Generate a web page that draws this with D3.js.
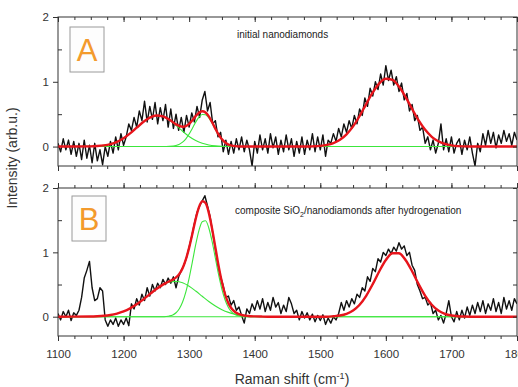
<!DOCTYPE html>
<html><head><meta charset="utf-8">
<script src="https://cdn.jsdelivr.net/npm/d3@7/dist/d3.min.js"></script>
<style>
html,body{margin:0;padding:0;background:#fff;}
text{font-family:"Liberation Sans",Arial,Helvetica,sans-serif;}
</style></head>
<body><svg id="c" width="518" height="387"></svg>
<script>
// ---------- DATA ----------
// Raman shift sampling grid (cm-1), 4 cm-1 step
const shift = d3.range(1100, 1801, 4);
// Panel A: initial nanodiamonds (measured spectrum)
const intensityA = [
 0.05,-0.08,0.12,-0.05,0.10,-0.12,0.08,-0.15,0.05,-0.20,0.10,-0.18,0.02,-0.25,0.05,-0.22,-0.05,-0.28,0.00,-0.15,0.08,-0.10,0.15,-0.05,0.20,
 0.02,0.15,0.35,0.25,0.45,0.30,0.55,0.40,0.70,0.38,0.62,0.42,0.68,0.35,0.60,0.40,0.65,0.30,0.58,0.28,0.50,0.25,0.45,0.22,0.48,
 0.30,0.52,0.38,0.62,0.45,0.72,0.85,0.55,0.68,0.35,0.40,0.15,0.22,-0.08,0.10,-0.12,0.08,-0.10,0.12,-0.05,0.15,-0.08,0.10,-0.05,-0.30,
 0.08,-0.10,0.18,-0.05,0.12,-0.10,0.20,-0.02,0.15,-0.12,0.10,-0.08,0.18,-0.05,0.12,-0.15,0.08,-0.10,0.15,-0.12,0.10,-0.05,0.20,-0.08,0.15,
 -0.05,0.18,-0.15,0.10,0.05,0.20,0.08,0.28,0.15,0.35,0.22,0.40,0.28,0.48,0.35,0.58,0.48,0.75,0.62,0.90,0.78,1.00,0.88,1.12,0.95,
 1.25,1.02,1.18,0.95,1.08,0.85,0.98,0.72,0.82,0.55,0.65,0.40,0.48,0.25,0.30,0.05,0.15,-0.05,0.10,-0.10,0.05,0.35,-0.05,0.12,-0.08,
 0.15,-0.10,0.05,0.12,-0.12,0.10,-0.05,0.15,-0.10,-0.30,0.05,-0.08,0.20,0.02,0.25,0.05,0.22,-0.02,0.18,0.05,0.25,0.08,0.20,0.02,0.22,
 0.10
];
// Panel B: composite SiO2/nanodiamonds after hydrogenation (measured spectrum)
const intensityB = [
 0.05,-0.05,0.08,0.00,0.10,-0.06,0.06,0.02,0.10,0.30,0.60,0.72,0.86,0.45,0.25,0.28,0.45,0.40,-0.05,-0.15,-0.05,-0.12,-0.02,-0.15,-0.05,
 -0.12,-0.02,-0.14,0.20,0.12,0.28,0.18,0.35,0.25,0.45,0.32,0.50,0.40,0.52,0.45,0.58,0.50,0.60,0.52,0.62,0.45,0.62,0.72,0.80,0.92,
 1.08,1.25,1.45,1.62,1.72,1.80,1.88,1.72,1.55,1.30,1.05,0.80,0.62,0.48,0.30,0.32,0.18,0.25,0.10,0.15,0.02,-0.10,0.12,0.05,0.20,
 0.10,0.25,0.12,0.28,0.08,0.22,0.10,0.30,0.15,0.22,0.05,0.18,0.08,0.30,0.20,0.05,0.10,-0.05,0.08,-0.02,0.06,-0.05,0.04,-0.08,0.02,
 -0.06,0.03,-0.12,-0.02,-0.10,0.00,-0.05,0.05,0.22,0.10,0.25,0.15,0.28,0.20,0.35,0.30,0.45,0.40,0.62,0.55,0.75,0.70,0.90,0.85,1.00,
 0.95,1.05,0.98,1.08,1.02,1.15,1.05,1.10,0.95,1.00,0.80,0.72,0.50,0.40,0.28,0.30,0.18,0.22,0.05,0.10,-0.05,0.02,-0.10,0.05,0.25,
 0.00,-0.08,0.08,-0.05,0.10,-0.02,0.15,0.02,0.18,0.05,0.22,0.08,0.25,0.05,0.20,0.10,0.28,0.08,0.22,0.05,0.30,0.12,0.25,0.10,0.28,
 0.20
];
// Fitted components [shift, intensity]
const compA1 = [[1100,0],[1150,0.003],[1160,0.008],[1170,0.018],[1180,0.038],[1190,0.073],[1200,0.128],[1210,0.203],[1220,0.291],[1230,0.379],[1240,0.447],[1250,0.479],[1260,0.465],[1270,0.410],[1280,0.327],[1290,0.237],[1300,0.156],[1310,0.093],[1320,0.050],[1330,0.025],[1340,0.011],[1350,0.004],[1360,0.001],[1800,0]];
const compA2 = [[1100,0],[1260,0],[1270,0.003],[1280,0.016],[1290,0.068],[1295,0.120],[1300,0.194],[1305,0.284],[1310,0.377],[1315,0.454],[1320,0.496],[1325,0.491],[1330,0.441],[1335,0.359],[1340,0.265],[1345,0.178],[1350,0.108],[1355,0.060],[1360,0.030],[1370,0.006],[1380,0.001],[1800,0]];
const compA3 = [[1100,0],[1480,0],[1490,0.004],[1500,0.011],[1510,0.025],[1520,0.053],[1530,0.105],[1540,0.189],[1550,0.312],[1560,0.472],[1570,0.656],[1580,0.835],[1590,0.976],[1600,1.046],[1610,1.028],[1620,0.926],[1630,0.766],[1640,0.581],[1650,0.404],[1660,0.258],[1670,0.151],[1680,0.081],[1690,0.040],[1700,0.018],[1710,0.007],[1720,0.003],[1730,0.001],[1800,0]];
const fitA = [[1100,0],[1150,0.003],[1160,0.008],[1170,0.018],[1180,0.038],[1190,0.073],[1200,0.128],[1210,0.203],[1220,0.291],[1230,0.379],[1240,0.447],[1250,0.479],[1260,0.465],[1270,0.413],[1280,0.343],[1290,0.305],[1295,0.315],[1300,0.350],[1305,0.406],[1310,0.470],[1315,0.523],[1320,0.546],[1325,0.527],[1330,0.466],[1335,0.376],[1340,0.276],[1345,0.185],[1350,0.112],[1355,0.062],[1360,0.031],[1370,0.006],[1380,0.001],[1390,0],[1480,0],[1490,0.004],[1500,0.011],[1510,0.025],[1520,0.053],[1530,0.105],[1540,0.189],[1550,0.312],[1560,0.472],[1570,0.656],[1580,0.835],[1590,0.976],[1600,1.046],[1610,1.028],[1620,0.926],[1630,0.766],[1640,0.581],[1650,0.404],[1660,0.258],[1670,0.151],[1680,0.081],[1690,0.040],[1700,0.018],[1710,0.007],[1720,0.003],[1730,0.001],[1800,0]];
const compB1 = [[1100,0],[1150,0.003],[1160,0.007],[1170,0.014],[1180,0.027],[1190,0.049],[1200,0.082],[1210,0.130],[1220,0.192],[1230,0.268],[1240,0.350],[1250,0.430],[1260,0.497],[1270,0.539],[1280,0.549],[1290,0.526],[1300,0.473],[1310,0.399],[1320,0.317],[1330,0.236],[1340,0.166],[1350,0.109],[1360,0.067],[1370,0.039],[1380,0.021],[1390,0.011],[1400,0.005],[1410,0.002],[1420,0],[1800,0]];
const compB2 = [[1100,0],[1260,0],[1265,0.004],[1270,0.012],[1275,0.028],[1280,0.061],[1285,0.123],[1290,0.228],[1295,0.387],[1300,0.601],[1305,0.856],[1310,1.120],[1315,1.343],[1320,1.477],[1325,1.490],[1330,1.378],[1335,1.169],[1340,0.910],[1345,0.649],[1350,0.425],[1355,0.255],[1360,0.140],[1365,0.071],[1370,0.033],[1375,0.014],[1380,0.005],[1390,0],[1800,0]];
const compB3 = [[1100,0],[1510,0],[1520,0.007],[1530,0.018],[1540,0.044],[1550,0.096],[1560,0.186],[1570,0.325],[1580,0.506],[1590,0.707],[1600,0.882],[1610,0.986],[1620,0.986],[1630,0.882],[1640,0.707],[1650,0.506],[1660,0.325],[1670,0.186],[1680,0.096],[1690,0.044],[1700,0.018],[1710,0.007],[1720,0.002],[1730,0],[1800,0]];
const fitB = [[1100,0],[1150,0.003],[1160,0.007],[1170,0.014],[1180,0.027],[1190,0.049],[1200,0.082],[1210,0.130],[1220,0.192],[1230,0.268],[1240,0.350],[1250,0.430],[1260,0.498],[1265,0.526],[1270,0.551],[1275,0.576],[1280,0.610],[1285,0.665],[1290,0.754],[1295,0.890],[1300,1.074],[1305,1.294],[1310,1.519],[1315,1.702],[1320,1.794],[1325,1.766],[1330,1.614],[1335,1.368],[1340,1.076],[1345,0.784],[1350,0.534],[1355,0.341],[1360,0.207],[1365,0.123],[1370,0.072],[1375,0.043],[1380,0.026],[1390,0.011],[1400,0.005],[1410,0.002],[1420,0],[1510,0],[1520,0.007],[1530,0.018],[1540,0.044],[1550,0.096],[1560,0.186],[1570,0.325],[1580,0.506],[1590,0.707],[1600,0.882],[1610,0.986],[1620,0.986],[1630,0.882],[1640,0.707],[1650,0.506],[1660,0.325],[1670,0.186],[1680,0.096],[1690,0.044],[1700,0.018],[1710,0.007],[1720,0.002],[1730,0],[1800,0]];
// Tick labels
const xMajor = [1100,1200,1300,1400,1500,1600,1700,1800];
const xMinor = d3.range(1100,1801,25);
const yMajor = [0,1,2];
const yMinor = [0.5,1.5];
const panelLabels = ["A","B"];

// ---------- DRAW ----------
const svg = d3.select("#c");
const L = 58, R = 517;
const x = d3.scaleLinear().domain([1100,1800]).range([L,R]);
const panels = [
  {y: d3.scaleLinear().domain([-0.3,2]).range([166,17]), data: intensityA, comps:[compA1,compA2,compA3], fit: fitA, top: true},
  {y: d3.scaleLinear().domain([-0.3,2]).range([336,188]), data: intensityB, comps:[compB1,compB2,compB3], fit: fitB, top: false}
];
const ink = "#333";
const fmt = d3.format("d");

panels.forEach((p, i) => {
  const y = p.y;
  const [yb, yt] = y.range();
  const id = "clip" + i;
  svg.append("clipPath").attr("id", id).append("rect")
     .attr("x", L).attr("y", yt).attr("width", R - L).attr("height", yb - yt);
  const g = svg.append("g").attr("clip-path", `url(#${id})`);
  const lineRaw = d3.line().x((d,j) => x(shift[j])).y(d => y(d));
  g.append("path").datum(p.data).attr("d", lineRaw)
    .attr("fill","none").attr("stroke","#111").attr("stroke-width",1.4).attr("stroke-linejoin","round");
  const lineFit = d3.line().x(d => x(d[0])).y(d => y(d[1])).curve(d3.curveMonotoneX);
  p.comps.forEach(c => {
    g.append("path").datum(c).attr("d", lineFit)
      .attr("fill","none").attr("stroke","#3ce63c").attr("stroke-width",1.1);
  });
  g.append("path").datum(p.fit).attr("d", lineFit)
    .attr("fill","none").attr("stroke","#e8141c").attr("stroke-width",2.4);

  // frame
  svg.append("rect").attr("x", L).attr("y", yt).attr("width", R - L).attr("height", yb - yt)
     .attr("fill","none").attr("stroke", ink).attr("stroke-width",1);

  const styleAxis = sel => { sel.select(".domain").remove(); sel.selectAll("line").attr("stroke", ink); sel.selectAll("text").attr("fill", ink).style("font-size","11.5px"); };
  svg.append("g").attr("transform",`translate(${L},0)`)
    .call(d3.axisLeft(y).tickValues(yMajor).tickSize(5).tickPadding(4).tickFormat(fmt))
    .call(styleAxis);
  svg.append("g").attr("transform",`translate(${L},0)`)
    .call(d3.axisRight(y).tickValues(yMinor).tickSize(4).tickFormat(""))
    .call(styleAxis);
  svg.append("g").attr("transform",`translate(${R},0)`)
    .call(d3.axisLeft(y).tickValues(yMajor.concat(yMinor)).tickSize(4).tickFormat(""))
    .call(styleAxis);
  svg.append("g").attr("transform",`translate(0,${yt})`)
    .call((p.top ? d3.axisBottom(x) : d3.axisTop(x)).tickValues(xMinor).tickSize(3).tickFormat(""))
    .call(styleAxis);
  svg.append("g").attr("transform",`translate(0,${yt})`)
    .call((p.top ? d3.axisBottom(x) : d3.axisTop(x)).tickValues(xMajor).tickSize(5).tickFormat(""))
    .call(styleAxis);
  svg.append("g").attr("transform",`translate(0,${yb})`)
    .call(d3.axisBottom(x).tickValues(xMinor).tickSize(3).tickFormat(""))
    .call(styleAxis);
  const bottomMajor = d3.axisBottom(x).tickValues(xMajor).tickSize(5).tickPadding(9).tickFormat(p.top ? "" : fmt);
  svg.append("g").attr("transform",`translate(0,${yb})`)
    .call(bottomMajor)
    .call(styleAxis);

  const bx = i === 0 ? 70 : 72, by = i === 0 ? 27 : 196;
  svg.append("rect").attr("x", bx).attr("y", by).attr("width", 34).attr("height", 45)
     .attr("fill","#fdfdfd").attr("stroke","#9a9a9a").attr("stroke-width",1);
  svg.append("text").attr("x", bx + 17).attr("y", by + 34).attr("text-anchor","middle")
     .attr("fill","#f39a2c").style("font-size","31px").text(panelLabels[i]);
});

svg.append("text").attr("x", 237).attr("y", 38).attr("fill", "#222").style("font-size","10px")
   .text("initial nanodiamonds");
const t2 = svg.append("text").attr("x", 235).attr("y", 214).attr("fill", "#222").style("font-size","10px");
t2.append("tspan").text("composite SiO");
t2.append("tspan").attr("dy", 3).style("font-size","7px").text("2");
t2.append("tspan").attr("dy", -3).text("/nanodiamonds after hydrogenation");

const xt = svg.append("text").attr("x", 292).attr("y", 384).attr("text-anchor","middle")
   .attr("fill", ink).style("font-size","14px");
xt.append("tspan").text("Raman shift (cm");
xt.append("tspan").attr("dy", -5).style("font-size","9px").text("-1");
xt.append("tspan").attr("dy", 5).text(")");
svg.append("text").attr("transform","translate(17,158) rotate(-90)").attr("text-anchor","middle")
   .attr("fill", ink).style("font-size","14px").text("Intensity (arb.u.)");
</script>
</body></html>
